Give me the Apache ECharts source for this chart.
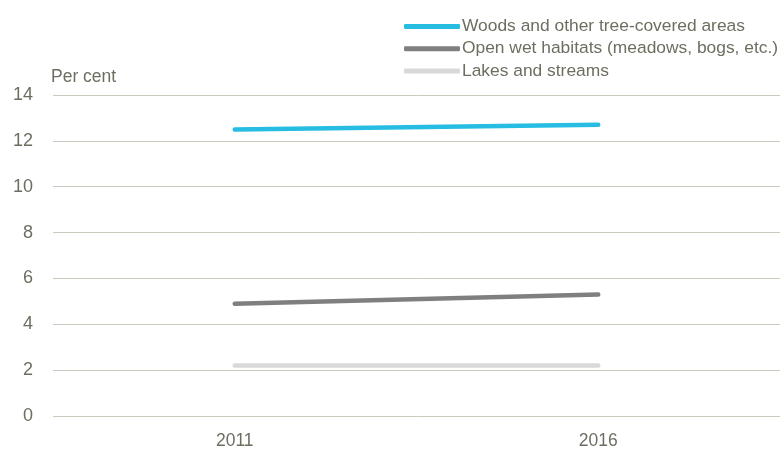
<!DOCTYPE html>
<html><head><meta charset="utf-8">
<script src="https://cdn.jsdelivr.net/npm/echarts@6/dist/echarts.min.js"></script>
<style>html,body{margin:0;padding:0;background:#fff}#c{width:780px;height:450px}</style>
</head><body><div id="c"></div>
<script>
const categories = ['2011', '2016'];
const woods = [12.5, 12.7];
const openWet = [4.9, 5.3];
const lakes = [2.2, 2.2];
const seriesNames = ['Woods and other tree-covered areas', 'Open wet habitats (meadows, bogs, etc.)', 'Lakes and streams'];
const yTicks = { min: 0, max: 14, interval: 2 };

const txt = '#6d6e60';
const font = 'Liberation Sans';
const colors = ['#27bde3', '#7f7f7f', '#d9d9d9'];
const chart = echarts.init(document.getElementById('c'));
const mk = (name, data, i) => ({
  name, type: 'line', data, symbol: 'none', showSymbol: false,
  lineStyle: { width: 4.5, color: colors[i], cap: 'round' },
  itemStyle: { color: colors[i] }, silent: true
});
chart.setOption({
  animation: false,
  textStyle: { fontFamily: font },
  legend: {
    orient: 'vertical', left: 404, top: 13, itemGap: 5.2, padding: [5, 0, 5, 0],
    itemWidth: 56, itemHeight: 5, icon: 'roundRect',
    textStyle: { color: txt, fontSize: 17.4, fontFamily: font, padding: [0, 0, 0, -3] },
    data: seriesNames
  },
  grid: { left: 53, right: 0, top: 95, bottom: 33 },
  xAxis: {
    type: 'category', data: categories, boundaryGap: true,
    axisLine: { show: false }, axisTick: { show: false },
    axisLabel: { color: txt, fontSize: 17.5, margin: 16 }
  },
  yAxis: {
    type: 'value', min: yTicks.min, max: yTicks.max, interval: yTicks.interval,
    name: 'Per cent', nameLocation: 'end', nameGap: 9,
    nameTextStyle: { color: txt, fontSize: 17.5, align: 'left', padding: [0, 0, 0, -2] },
    axisLabel: { color: txt, fontSize: 18, margin: 20 },
    splitLine: { lineStyle: { color: '#c9c9bd', width: 1 } },
    axisLine: { show: false }, axisTick: { show: false }
  },
  series: [mk(seriesNames[0], woods, 0), mk(seriesNames[1], openWet, 1), mk(seriesNames[2], lakes, 2)]
});
</script></body></html>
